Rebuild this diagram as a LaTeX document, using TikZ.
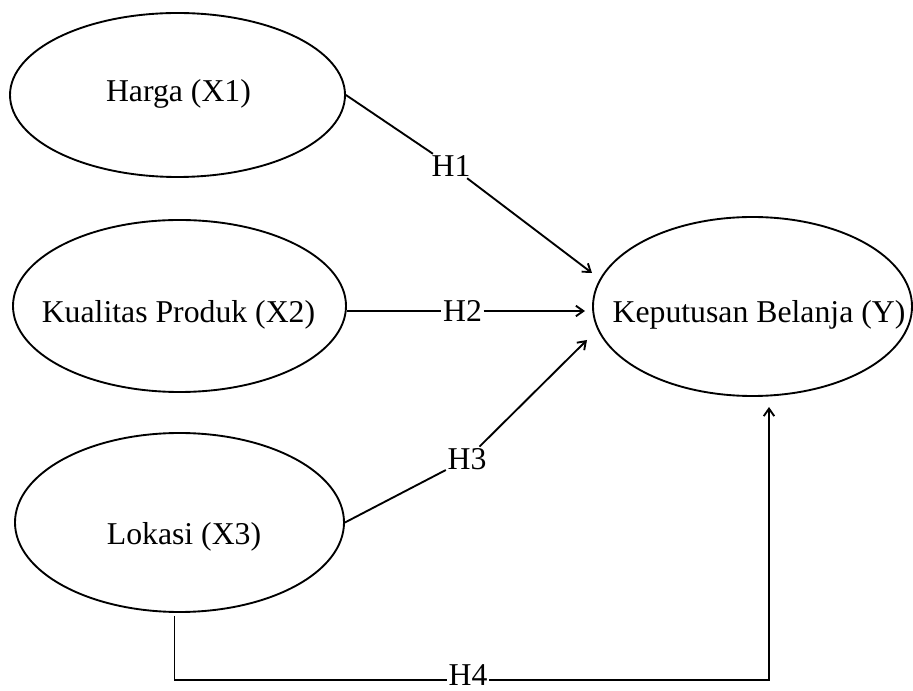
\documentclass[tikz,border=0pt]{standalone}
\usepackage{fontspec}
\setmainfont{Liberation Serif}
\usepackage{xcolor}
\definecolor{ki}{HTML}{000000}
\usetikzlibrary{shapes.geometric,arrows.meta}

\begin{document}
\begin{tikzpicture}[x=0.4pt,y=-0.4pt,
    var/.style={ellipse,draw=ki,line width=0.75pt,inner sep=0pt},
    txt/.style={ki,anchor=base,inner sep=0pt,font=\fontsize{12.7}{15}\selectfont},
    hyp/.style={ki,inner sep=0.5pt,font=\fontsize{12.7}{15}\selectfont},
    link/.style={draw=ki,line width=0.75pt},
    >={Straight Barb[length=3pt,width=4.2pt]}]
  \useasboundingbox (0,0) rectangle (913,691);

  % Variables (ellipses) and their names
  \node[var,minimum width=134pt,minimum height=65.6pt] (x1) at (177.5,95) {};
  \node[var,minimum width=133.2pt,minimum height=68.8pt] (x2) at (179.5,306) {};
  \node[var,minimum width=131.6pt,minimum height=71.6pt] (x3) at (179.5,522.5) {};
  \node[var,minimum width=127.6pt,minimum height=71.6pt] (y) at (752.5,306.5) {};

  \node[txt] (t1) at (178.5,102) {Harga (X1)};
  \node[txt] (t2) at (178.5,323) {Kualitas Produk (X2)};
  \node[txt] (t3) at (184,544) {Lokasi (X3)};
  \node[txt] (ty) at (759,323) {Keputusan Belanja (Y)};

  % Hypothesis labels sitting on the paths
  \node[hyp] (h1) at (451,166) {H1};
  \node[hyp] (h2) at (462.5,311) {H2};
  \node[hyp] (h3) at (467,459) {H3};
  \node[hyp] (h4) at (468,675) {H4};

  % Arrow ends (short of the Y ellipse)
  \coordinate (e1) at (592,273);
  \coordinate (e2) at (585,311);
  \coordinate (e3) at (587,340);
  \coordinate (e4) at (769,407);

  % Paths X -> Y
  \draw[link] (x1.east) -- (h1);
  \draw[link,->] (h1) -- (e1);
  \draw[link] (x2.east |- h2) -- (h2);
  \draw[link,->] (h2) -- (e2);
  \draw[link] (x3.east) -- (h3);
  \draw[link,->] (h3) -- (e3);
  \draw[link] ([shift={(-5,3)}]x3.south) |- ([shift={(0,5)}]h4.west);
  \draw[link,->] ([shift={(0,5)}]h4.east) -| (e4);
\end{tikzpicture}
\end{document}
